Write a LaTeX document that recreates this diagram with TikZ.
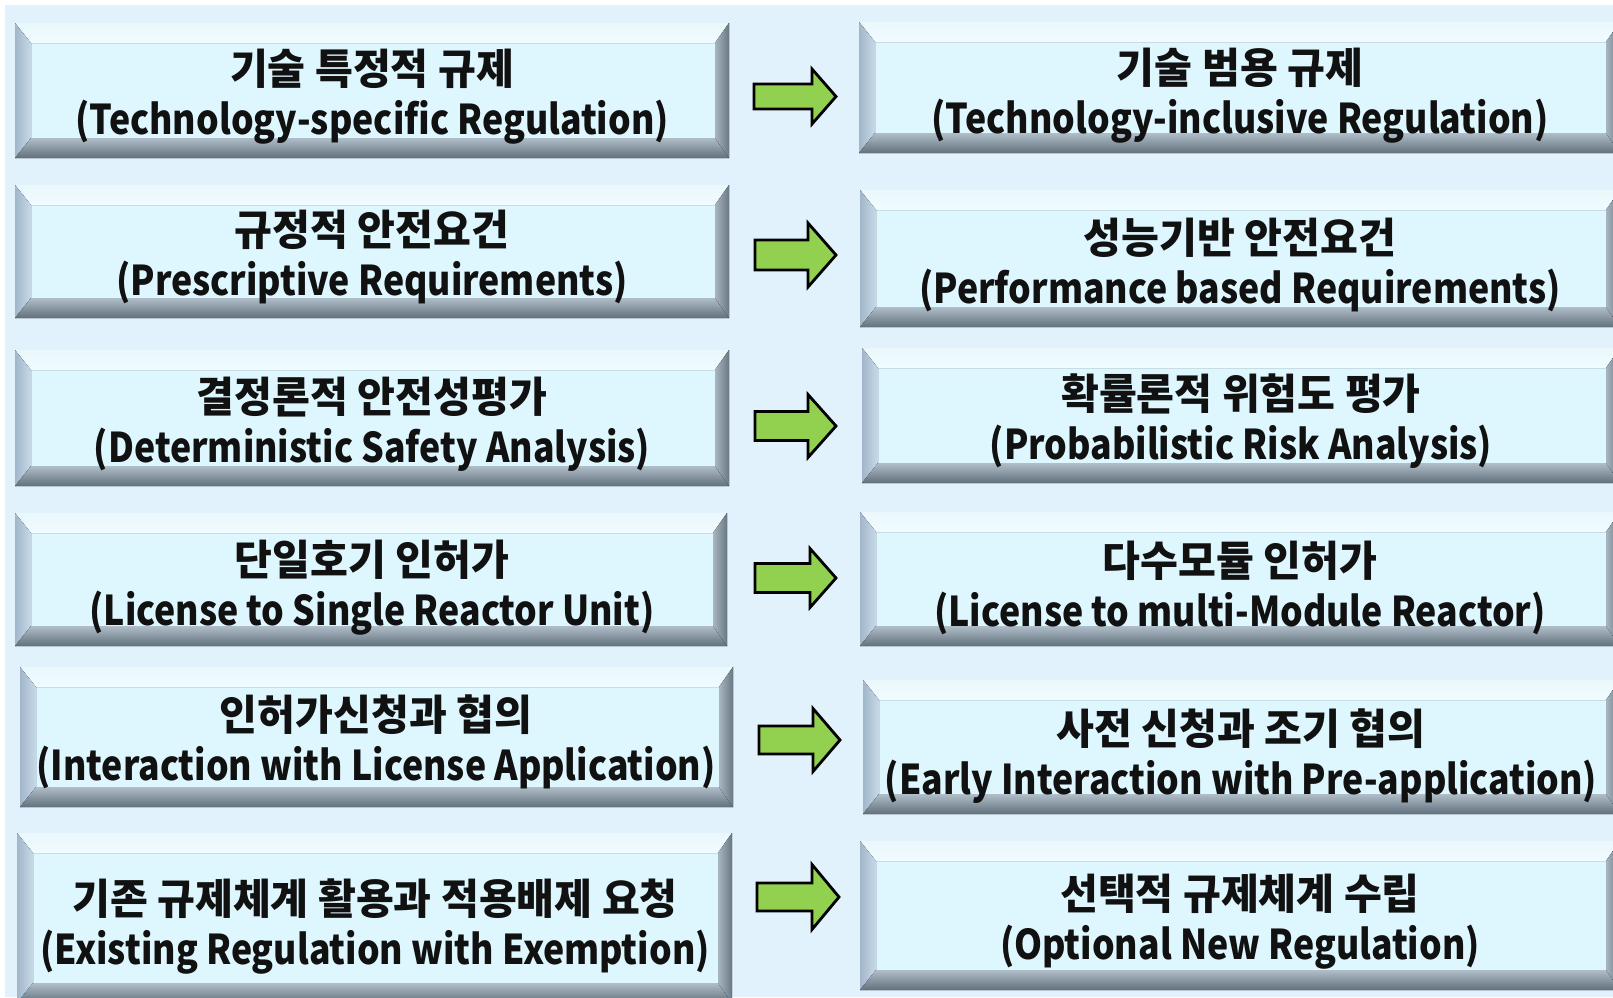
\documentclass[tikz,border=0pt]{standalone}
\usepackage{fontspec}
\newfontfamily\krfont[FakeStretch=0.98]{Noto Sans CJK KR}
\newfontfamily\enfont[FakeStretch=0.87]{Noto Sans CJK KR}
\definecolor{bgblue}{HTML}{E2F2FC}
\definecolor{face}{HTML}{DEF7FF}
\definecolor{bevtopA}{HTML}{EAF7FB}
\definecolor{bevtopB}{HTML}{F0FCFF}
\definecolor{bevleftA}{HTML}{A2B6CA}
\definecolor{bevleftB}{HTML}{C8DAE8}
\definecolor{bevbotA}{HTML}{B0BECA}
\definecolor{bevbotB}{HTML}{62707C}
\definecolor{bevrightA}{HTML}{A8B6C2}
\definecolor{bevrightB}{HTML}{6A7884}
\definecolor{arrowgreen}{HTML}{92D050}
\definecolor{txt}{HTML}{111111}
\tikzset{
  facefill/.style={fill=face},
  topbev/.style={top color=bevtopA, middle color=white, bottom color=bevtopB},
  leftbev/.style={left color=bevleftA, right color=bevleftB},
  botbev/.style={top color=bevbotA, bottom color=bevbotB},
  rightbev/.style={left color=bevrightA, right color=bevrightB},
  boxtext/.style={align=center, inner sep=0pt, text=txt,
    font=\fontsize{41}{50}\selectfont\bfseries},
  blockarrow/.style={draw=black, line width=2.8pt, line join=miter, fill=arrowgreen},
}
% name, x1, y1, x2, y2, text-x, text-y, Korean, English
\newcommand\bevbox[9]{%
  \fill[facefill] (#2+16,#3+20) rectangle (#4-14,#5-20);
  \fill[topbev] (#2,#3) -- (#4,#3) -- (#4-14,#3+20) -- (#2+16,#3+20) -- cycle;
  \fill[leftbev] (#2,#3) -- (#2+16,#3+20) -- (#2+16,#5-20) -- (#2,#5) -- cycle;
  \fill[botbev] (#2,#5) -- (#2+16,#5-20) -- (#4-14,#5-20) -- (#4,#5) -- cycle;
  \fill[rightbev] (#4,#3) -- (#4,#5) -- (#4-14,#5-20) -- (#4-14,#3+20) -- cycle;
  \node[boxtext] (#1) at (#6,#7) {{\krfont\fontsize{42}{50}\selectfont #8}\\{\enfont #9}};
}
% xb, xh, xt, cy, half body, half head
\newcommand\barrow[6]{%
  \draw[blockarrow] (#1,#4-#5) -- (#2,#4-#5) -- (#2,#4-#6) -- (#3,#4)
    -- (#2,#4+#6) -- (#2,#4+#5) -- (#1,#4+#5) -- cycle;
}
\begin{document}
\begin{tikzpicture}[x=1pt,y=-1pt]
\useasboundingbox (0,0) rectangle (1613,997);
\fill[white] (0,0) rectangle (1613,997);
\fill[bgblue] (5,5) rectangle (1613,997);

\bevbox{L1}{15}{23}{729}{158}{372}{96.5}{기술 특정적 규제}{(Technology-specific Regulation)}
\bevbox{L2}{15}{185}{729}{318}{372}{257}{규정적 안전요건}{(Prescriptive Requirements)}
\bevbox{L3}{15}{350}{729}{486}{372}{424.5}{결정론적 안전성평가}{(Deterministic Safety Analysis)}
\bevbox{L4}{15}{513}{727}{646}{372}{587.5}{단일호기 인허가}{(License to Single Reactor Unit)}
\bevbox{L5}{20}{667}{733}{807}{376}{741.5}{인허가신청과 협의}{(Interaction with License Application)}
\bevbox{L6}{17}{833}{732}{1003}{375}{927}{기존 규제체계 활용과 적용배제 요청}{(Existing Regulation with Exemption)}

\bevbox{R1}{859}{22}{1620}{153}{1240}{95.5}{기술 범용 규제}{(Technology-inclusive Regulation)}
\bevbox{R2}{860}{190}{1620}{327}{1240}{265.5}{성능기반 안전요건}{(Performance based Requirements)}
\bevbox{R3}{862}{348}{1620}{483}{1241}{421.5}{확률론적 위험도 평가}{(Probabilistic Risk Analysis)}
\bevbox{R4}{860}{512}{1620}{646}{1240}{587.5}{다수모듈 인허가}{(License to multi-Module Reactor)}
\bevbox{R5}{863}{680}{1620}{814}{1241}{756}{사전 신청과 조기 협의}{(Early Interaction with Pre-application)}
\bevbox{R6}{860}{841}{1620}{990}{1240}{921.5}{선택적 규제체계 수립}{(Optional New Regulation)}

\barrow{754}{812}{836}{96.5}{12.5}{27.5}
\barrow{755}{808}{836}{255}{15}{32}
\barrow{755}{808}{836}{426}{14.5}{31.5}
\barrow{755}{810}{836}{578}{14.5}{29.5}
\barrow{759}{813}{840}{740}{14}{31.5}
\barrow{757}{812}{839}{897}{14}{32.5}
\end{tikzpicture}
\end{document}
